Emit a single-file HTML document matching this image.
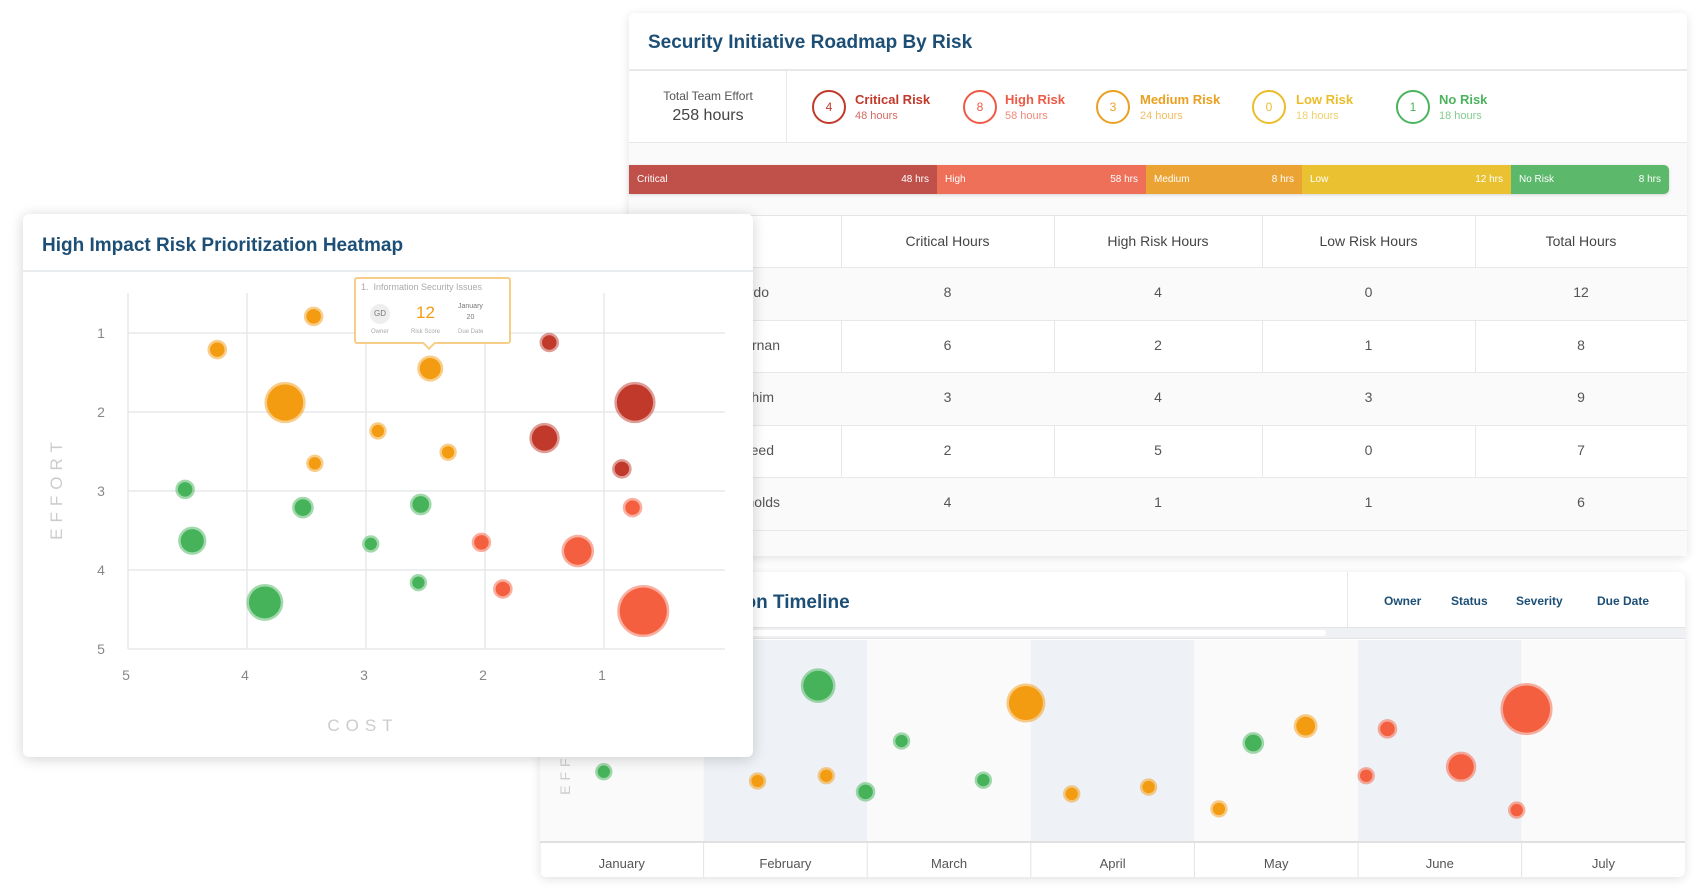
<!DOCTYPE html>
<html><head><meta charset="utf-8">
<style>
*{box-sizing:border-box;margin:0;padding:0}
body{width:1701px;height:893px;background:#fff;position:relative;overflow:hidden;font-family:"Liberation Sans",sans-serif;color:#555}
.card{position:absolute;background:#fff;border-radius:6px;box-shadow:0 2px 10px rgba(0,0,0,.12)}
.abs{position:absolute}
.title{position:absolute;color:#1d4f76;font-size:19px;font-weight:bold}
.circ{position:absolute;width:34px;height:34px;border-radius:50%;border:2px solid;font-size:12px;text-align:center;line-height:30px}
.rl{position:absolute;font-size:13px;font-weight:bold}
.rh{position:absolute;font-size:11px}
.seg{position:absolute;top:0;height:29px;color:#fff;font-size:10px;line-height:29px}
.seg span{position:absolute}
.cell{position:absolute;font-size:14px;color:#555;text-align:center}
.hl{position:absolute;background:#e8e8e8}
</style></head><body>

<!-- Top right card -->
<div class="card" style="left:629px;top:13px;width:1058px;height:543px">
  <div class="title" style="left:19px;top:19px">Security Initiative Roadmap By Risk</div>
  <div class="hl" style="left:0;top:56px;width:1058px;height:2px"></div>
  <div class="abs" style="left:0;top:76px;width:158px;text-align:center">
    <div style="font-size:12px;color:#555">Total Team Effort</div>
    <div style="font-size:16px;color:#444;margin-top:4px">258 hours</div>
  </div>
  <div class="hl" style="left:157px;top:58px;width:1px;height:72px"></div>
  <div class="hl" style="left:0;top:129px;width:1058px;height:1px"></div>
  <div class="abs" style="left:0;top:130px;width:1058px;height:413px;background:#fafafa"></div>

  <div>
    <div class="circ" style="left:183px;top:77px;border-color:#c0392b;color:#c0392b">4</div>
    <div class="rl" style="left:226px;top:79px;color:#c0392b">Critical Risk</div>
    <div class="rh" style="left:226px;top:97px;color:#d26a60">48 hours</div>
  </div>
  <div>
    <div class="circ" style="left:334px;top:77px;border-color:#ee5a45;color:#ee5a45">8</div>
    <div class="rl" style="left:376px;top:79px;color:#ee5a45">High Risk</div>
    <div class="rh" style="left:376px;top:97px;color:#f08a7a">58 hours</div>
  </div>
  <div>
    <div class="circ" style="left:467px;top:77px;border-color:#eaa020;color:#eaa020">3</div>
    <div class="rl" style="left:511px;top:79px;color:#eaa020">Medium Risk</div>
    <div class="rh" style="left:511px;top:97px;color:#f0bd63">24 hours</div>
  </div>
  <div>
    <div class="circ" style="left:623px;top:77px;border-color:#ebbd2a;color:#ebbd2a">0</div>
    <div class="rl" style="left:667px;top:79px;color:#ebbd2a">Low Risk</div>
    <div class="rh" style="left:667px;top:97px;color:#f0d070">18 hours</div>
  </div>
  <div>
    <div class="circ" style="left:767px;top:77px;border-color:#4cb45e;color:#4cb45e">1</div>
    <div class="rl" style="left:810px;top:79px;color:#4cb45e">No Risk</div>
    <div class="rh" style="left:810px;top:97px;color:#85cc90">18 hours</div>
  </div>

  <div class="abs" style="left:0;top:152px;width:1040px;height:29px;border-radius:0 5px 5px 0;overflow:hidden;box-shadow:0 1px 3px rgba(0,0,0,.15)">
    <div class="seg" style="left:0;width:308px;background:#c0504a"><span style="left:8px">Critical</span><span style="right:8px">48 hrs</span></div>
    <div class="seg" style="left:308px;width:209px;background:#ee7059"><span style="left:8px">High</span><span style="right:8px">58 hrs</span></div>
    <div class="seg" style="left:517px;width:156px;background:#eba334"><span style="left:8px">Medium</span><span style="right:8px">8 hrs</span></div>
    <div class="seg" style="left:673px;width:209px;background:#eac131"><span style="left:8px">Low</span><span style="right:8px">12 hrs</span></div>
    <div class="seg" style="left:882px;width:158px;background:#5cb86b"><span style="left:8px">No Risk</span><span style="right:8px">8 hrs</span></div>
  </div>

  <div class="abs" style="left:0;top:202px;width:1058px;height:314px;background:#fff;border-top:1px solid #e5e5e5">
    <div id="tbl"></div>
  </div>
</div>

<!-- Bottom timeline card -->
<div class="card" style="left:540px;top:572px;width:1145px;height:305px;overflow:hidden">
  <div class="title" style="left:138px;top:20px">Mitigation Timeline</div>
  <div class="hl" style="left:807px;top:0;width:1px;height:55px"></div>
  <div class="abs" style="left:844px;top:22px;font-size:12px;font-weight:bold;color:#1d4f76">Owner</div>
  <div class="abs" style="left:911px;top:22px;font-size:12px;font-weight:bold;color:#1d4f76">Status</div>
  <div class="abs" style="left:976px;top:22px;font-size:12px;font-weight:bold;color:#1d4f76">Severity</div>
  <div class="abs" style="left:1057px;top:22px;font-size:12px;font-weight:bold;color:#1d4f76">Due Date</div>
  <div class="abs" style="left:0;top:55px;width:1145px;height:12px;background:#eef0f3;border-top:1px solid #e3e3e3;border-bottom:1px solid #e3e3e3">
    <div style="position:absolute;left:100px;top:2px;width:686px;height:6px;background:#fff;border-radius:3px"></div>
  </div>
  <svg id="tl" class="abs" style="left:0;top:0" width="1145" height="305"></svg>
</div>

<!-- Heatmap card -->
<div class="card" style="left:23px;top:214px;width:730px;height:543px;box-shadow:0 2px 14px rgba(0,0,0,.18)">
  <div class="title" style="left:19px;top:21px">High Impact Risk Prioritization Heatmap</div>
  <div class="hl" style="left:0;top:56px;width:730px;height:2px;background:#e9ecef"></div>
  <svg id="hm" class="abs" style="left:0;top:0" width="730" height="543"></svg>
  <div class="abs" style="left:331px;top:63px;width:157px;height:67px;background:#fff;border:2px solid #f7cd8a;border-radius:3px">
    <div style="position:absolute;left:5px;top:3px;font-size:9px;color:#aaa">1.&nbsp; Information Security Issues</div>
    <div style="position:absolute;left:14px;top:25px;width:20px;height:20px;border-radius:50%;background:#eee;font-size:8px;line-height:20px;text-align:center;color:#777">GD</div>
    <div style="position:absolute;left:15px;top:50px;font-size:6px;color:#aaa">Owner</div>
    <div style="position:absolute;left:60px;top:24px;font-size:17px;color:#f39c12">12</div>
    <div style="position:absolute;left:55px;top:50px;font-size:6px;color:#aaa">Risk Score</div>
    <div style="position:absolute;left:102px;top:22px;font-size:7px;color:#777;text-align:center;line-height:11px">January<br>20</div>
    <div style="position:absolute;left:102px;top:50px;font-size:6px;color:#aaa">Due Date</div>
    <div style="position:absolute;left:68px;top:59px;width:10px;height:10px;background:#fff;border-right:2px solid #f7cd8a;border-bottom:2px solid #f7cd8a;transform:rotate(45deg)"></div>
  </div>
</div>

<script>
// ---------- Table ----------
const tableHeaders = ["", "Critical Hours", "High Risk Hours", "Low Risk Hours", "Total Hours"];
const tableNames = ["Ricardo", "Tiernan", "Ibrahim", "Reed", "Reynolds"];
const criticalHours = [8, 6, 3, 2, 4];
const highHours = [4, 2, 4, 5, 1];
const lowHours = [0, 1, 3, 0, 1];
const totalHours = [12, 8, 9, 7, 6];
(function(){
  const t = document.getElementById('tbl');
  const colX = [0, 212, 425, 633, 846, 1058];
  const nameRight = [140, 151, 145, 145, 151];
  const rowH = 52.5, headH = 51;
  let h = '';
  for (let c = 1; c < 5; c++) {
    h += `<div class="hl" style="left:${colX[c]}px;top:0;width:1px;height:314px"></div>`;
  }
  for (let c = 1; c < 5; c++) {
    h += `<div class="cell" style="left:${colX[c]}px;top:17px;width:${colX[c+1]-colX[c]}px;color:#444">${tableHeaders[c]}</div>`;
  }
  for (let r = 0; r < tableNames.length; r++) {
    const y = headH + r * rowH;
    h += `<div class="hl" style="left:0;top:${y}px;width:1058px;height:1px"></div>`;
    if (r % 2 === 0) h += `<div class="abs" style="left:0;top:${y+1}px;width:1058px;height:${rowH-1}px;background:#fafafa"></div>`;
    const vals = [criticalHours[r], highHours[r], lowHours[r], totalHours[r]];
    h += `<div class="cell" style="left:0;top:${y+17}px;width:${nameRight[r]}px;text-align:right">${tableNames[r]}</div>`;
    for (let c = 0; c < 4; c++) {
      h += `<div class="cell" style="left:${colX[c+1]}px;top:${y+17}px;width:${colX[c+2]-colX[c+1]}px">${vals[c]}</div>`;
    }
  }
  h += `<div class="hl" style="left:0;top:${headH+5*rowH}px;width:1058px;height:1px"></div>`;
  t.innerHTML = h;
})();

// ---------- Heatmap ----------
const costTicks = [5, 4, 3, 2, 1];
const effortTicks = [1, 2, 3, 4, 5];
const hmCost = [3.44, 4.25, 2.46, 3.68, 2.90, 3.43, 2.31, 1.46, 0.74, 1.50, 0.85, 4.52, 3.53, 2.54, 4.46, 2.96, 3.85, 2.56, 0.76, 2.03, 1.22, 1.85, 0.67];
const hmEffort = [0.79, 1.21, 1.45, 1.88, 2.24, 2.65, 2.51, 1.12, 1.88, 2.33, 2.72, 2.98, 3.21, 3.17, 3.63, 3.67, 4.41, 4.16, 3.21, 3.65, 3.76, 4.24, 4.52];
const hmSize = [9, 9, 12, 19, 8, 8, 8, 9, 19, 14, 9, 9, 10, 10, 13, 8, 17, 8, 9, 9, 15, 9, 24];
const hmRisk = ["m","m","m","m","m","m","m","c","c","c","c","n","n","n","n","n","n","n","h","h","h","h","h"];
const riskColor = {c:"#c0392b", h:"#f4603f", m:"#f39c12", n:"#46b35a"};
(function(){
  const svg = document.getElementById('hm');
  const NS = 'http://www.w3.org/2000/svg';
  const xS = v => 105 + (5 - v) * 119;
  const yS = v => 119 + (v - 1) * 79;
  const left = xS(5), right = 702, top = 79, bottom = yS(5);
  function el(tag, attrs){ const e = document.createElementNS(NS, tag); for (const k in attrs) e.setAttribute(k, attrs[k]); svg.appendChild(e); return e; }
  costTicks.forEach(v => {
    const l = el('line', {x1:xS(v), x2:xS(v), y1:top, y2:bottom, stroke:'#e6e8eb', 'stroke-width':1.5});
    
    
    const t = el('text', {x:xS(v)-2, y:bottom+31, 'text-anchor':'middle', 'font-size':14, fill:'#888', 'font-family':'Liberation Sans'});
    t.textContent = v;
    
    
  });
  effortTicks.forEach(v => {
    const l = el('line', {x1:left, x2:right, y1:yS(v), y2:yS(v), stroke:'#e6e8eb', 'stroke-width':1.5});
    
    
    const t = el('text', {x:78, y:yS(v)+5, 'text-anchor':'middle', 'font-size':14, fill:'#888', 'font-family':'Liberation Sans'});
    t.textContent = v;
    
    
  });
  const xt = el('text', {x:340, y:517, 'text-anchor':'middle', 'font-size':17, fill:'#ccc', 'letter-spacing':6, 'font-family':'Liberation Sans'});
  xt.textContent = 'COST';
  
  
  const yt = el('text', {x:0, y:0, transform:'translate(39,274) rotate(-90)', 'text-anchor':'middle', 'font-size':17, fill:'#ccc', 'letter-spacing':6, 'font-family':'Liberation Sans'});
  yt.textContent = 'EFFORT';
  
  
  for (let i = 0; i < hmCost.length; i++) {
    const r = hmSize[i] * 1.085;
    const col = riskColor[hmRisk[i]];
    const c = el('circle', {cx:xS(hmCost[i]), cy:yS(hmEffort[i]), r:r - 2.5, fill:col, stroke:col, 'stroke-opacity':0.5, 'stroke-width':5});
    
    
  }
})();

// ---------- Timeline ----------
const monthLabels = ["January", "February", "March", "April", "May", "June", "July"];
const tlMonth = [0.39, 1.70, 1.33, 1.75, 1.99, 2.21, 2.97, 2.71, 3.25, 3.72, 4.15, 4.36, 4.68, 5.18, 5.05, 5.63, 6.03, 5.97];
const tlEffort = [1.74, 3.87, 1.51, 1.64, 1.24, 2.50, 3.44, 1.53, 1.19, 1.36, 0.82, 2.45, 2.87, 2.80, 1.64, 1.86, 3.29, 0.79];
const tlSize = [8, 16, 8, 8, 9, 8, 18, 8, 8, 8, 8, 10, 11, 9, 8, 14, 24, 8];
const tlRisk = ["n","n","m","m","n","n","m","n","m","m","m","n","m","h","h","h","h","h"];
(function(){
  const svg = document.getElementById('tl');
  const NS = 'http://www.w3.org/2000/svg';
  const mW = 163.6;
  const xS = m => m * mW;
  const yS = e => 270 - e * 40.4;
  function el(tag, attrs){ const e = document.createElementNS(NS, tag); for (const k in attrs) e.setAttribute(k, attrs[k]); svg.appendChild(e); return e; }
  monthLabels.forEach((m, i) => {
    const bg = el('rect', {x:xS(i), y:68, width:mW, height:202, fill: i % 2 ? '#eef1f5' : '#fafafa'});
    
    
    el('line', {x1:xS(i), x2:xS(i), y1:270, y2:305, stroke:'#e3e3e3'});
    const t = el('text', {x:xS(i) + mW/2, y:296, 'text-anchor':'middle', 'font-size':13, fill:'#555', 'font-family':'Liberation Sans'});
    t.textContent = m;
    
    
  });
  el('line', {x1:0, x2:1145, y1:270, y2:270, stroke:'#e0e0e0', 'stroke-width':2});
  const yt = el('text', {x:0, y:0, transform:'translate(30,180) rotate(-90)', 'text-anchor':'middle', 'font-size':14, fill:'#ccc', 'letter-spacing':5, 'font-family':'Liberation Sans'});
  yt.textContent = 'EFFORT';
  
  
  for (let i = 0; i < tlMonth.length; i++) {
    const r = tlSize[i] * 1.085;
    const col = riskColor[tlRisk[i]];
    const c = el('circle', {cx:xS(tlMonth[i]), cy:yS(tlEffort[i]), r:r - 2.5, fill:col, stroke:col, 'stroke-opacity':0.5, 'stroke-width':5});
    
    
  }
})();
</script>
</body></html>
